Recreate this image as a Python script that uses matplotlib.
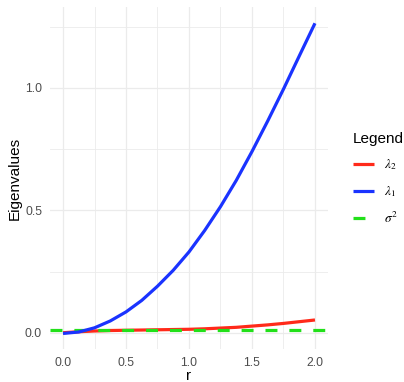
import matplotlib
matplotlib.use('Agg')
from matplotlib import pyplot as plt

# values
r = [0.0, 0.125, 0.25, 0.375, 0.5, 0.625, 0.75, 0.875, 1.0,
     1.125, 1.25, 1.375, 1.5, 1.625, 1.75, 1.875, 2.0]
lambda1 = [-0.003, 0.003, 0.02, 0.048, 0.085, 0.132, 0.19, 0.255, 0.33,
           0.418, 0.515, 0.622, 0.74, 0.865, 0.995, 1.13, 1.264]
lambda2 = [0.0, 0.004, 0.007, 0.009, 0.010, 0.011, 0.012, 0.013, 0.014,
           0.016, 0.019, 0.022, 0.027, 0.032, 0.038, 0.045, 0.052]
sigma2 = 0.01

x_ticks = [0.0, 0.5, 1.0, 1.5, 2.0]
y_ticks = [0.0, 0.5, 1.0]

plt.rcParams['font.family'] = ['Liberation Sans', 'DejaVu Sans']
plt.rcParams['mathtext.fontset'] = 'stix'
plt.rcParams['lines.scale_dashes'] = False

fig = plt.figure(figsize=(4.04, 3.82), dpi=100)
ax = fig.add_axes([0.1248, 0.0864, 0.686, 0.8953])

lw = 2.3
l2, = ax.plot(r, lambda2, color='#FF2A1A', lw=lw, solid_capstyle='butt')
s2 = ax.axhline(sigma2, color='#22E01A', lw=lw, dashes=(8.6, 8.6))
l1, = ax.plot(r, lambda1, color='#1A33FF', lw=lw, solid_capstyle='butt')

ax.set_xlim(-0.1, 2.1)
ax.set_ylim(-0.0665, 1.3305)
ax.set_xticks(x_ticks)
ax.set_yticks(y_ticks)
ax.set_xticks([0.25, 0.75, 1.25, 1.75], minor=True)
ax.set_yticks([0.25, 0.75, 1.25], minor=True)
ax.set_xticklabels(['%.1f' % v for v in x_ticks])
ax.set_yticklabels(['%.1f' % v for v in y_ticks])
ax.grid(True, which='major', color='#EBEBEB', lw=0.9)
ax.grid(True, which='minor', color='#EBEBEB', lw=0.6)
ax.set_axisbelow(True)
for sp in ax.spines.values():
    sp.set_visible(False)
ax.tick_params(which='both', length=0)
ax.tick_params(axis='both', labelsize=8.8, labelcolor='#4D4D4D')
ax.tick_params(axis='x', pad=6)
ax.tick_params(axis='y', pad=6)

ax.set_xlabel('r', fontsize=11, labelpad=0)
ax.set_ylabel('Eigenvalues', fontsize=11, labelpad=2)

leg = fig.legend([l2, l1, s2], [r'$\lambda_2$', r'$\lambda_1$', r'$\sigma^2$'],
                 loc='upper left', bbox_to_anchor=(0.873, 0.655),
                 title='Legend', title_fontsize=11, fontsize=9.5,
                 frameon=False, handlelength=1.64, handletextpad=0.7,
                 labelspacing=0.9, borderpad=0, borderaxespad=0)
leg._legend_box.align = 'left'

fig.savefig('out.png', dpi=100)
